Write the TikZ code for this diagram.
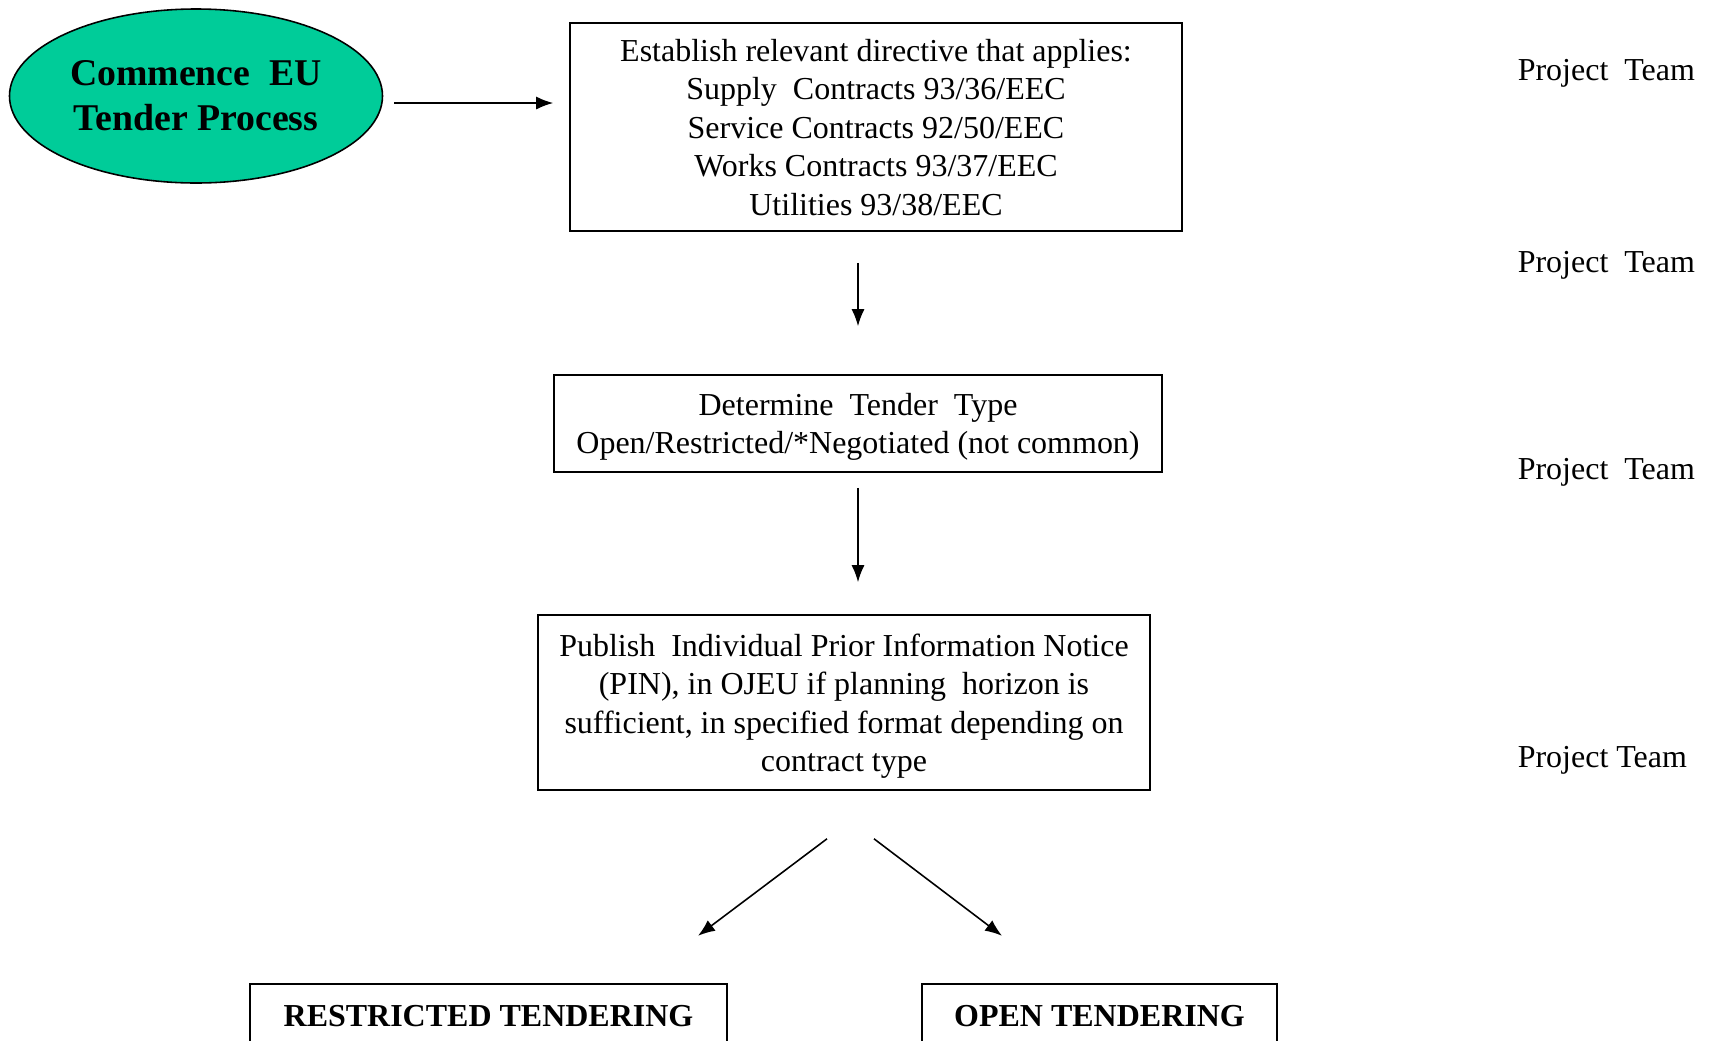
\documentclass[tikz,border=0pt]{standalone}
\usepackage{fontspec}
\setmainfont{Liberation Serif}
\usepackage{tikz}
\usetikzlibrary{arrows.meta}
\usetikzlibrary{shapes}
\usetikzlibrary{calc}
\definecolor{startgreen}{RGB}{0,204,153}
\tikzset{
    >={Latex[length=0.34cm,width=0.26cm]},
    flow/.style={draw=black, ->},
    stepbox/.style={draw=black, align=center, inner sep=0pt, text depth=0pt,
        font=\fontsize{18.2}{21.9}\selectfont},
    startbox/.style={ellipse, draw=black, fill=startgreen, align=center,
        inner sep=0pt, minimum width=7.46cm, minimum height=3.48cm,
        font=\bfseries\fontsize{21.5}{25.6}\selectfont},
    endbox/.style={draw=black, anchor=north, inner ysep=0.4cm,
        text height=0.45cm, text depth=1.5cm,
        font=\bfseries\fontsize{18.2}{21.9}\selectfont},
    who/.style={anchor=west, inner sep=0pt,
        font=\fontsize{18.2}{21.9}\selectfont},
}

\begin{document}
\begin{tikzpicture}[line width=0.9pt]
\useasboundingbox (0cm,0cm) rectangle (34.22cm,-20.8cm);
\clip (0cm,0cm) rectangle (34.22cm,-20.8cm);
% \draw[step=1cm, very thin, gray] (0cm,0cm) grid (34cm,-20cm);
\node[startbox] (start) at (3.92cm,-1.92cm) {Commence~ EU\\Tender Process};
\node[stepbox, minimum width=12.24cm, minimum height=4.16cm] (directive) at (17.52cm,-2.54cm)
    {Establish relevant directive that applies:\\Supply~ Contracts 93/36/EEC\\Service Contracts 92/50/EEC\\Works Contracts 93/37/EEC\\Utilities 93/38/EEC};
\node[stepbox, minimum width=12.16cm, minimum height=1.94cm] (type) at (17.16cm,-8.47cm)
    {Determine~ Tender~ Type\\Open/Restricted/*Negotiated (not common)};
\node[stepbox, minimum width=12.24cm, minimum height=3.5cm] (pin) at (16.88cm,-14.05cm)
    {Publish~ Individual Prior Information Notice\\(PIN), in OJEU if planning~ horizon is\\sufficient, in specified format depending on\\contract type};
\node[endbox, minimum width=9.54cm] (restricted) at (9.77cm,-19.66cm) {RESTRICTED TENDERING};
\node[endbox, minimum width=7.1cm] (open) at (21.99cm,-19.66cm) {OPEN TENDERING};

\node[who] (team1) at (30.34cm,-1.47cm) {Project~ Team};
\node[who] (team2) at (30.34cm,-5.31cm) {Project~ Team};
\node[who] (team3) at (30.34cm,-9.45cm) {Project~ Team};
\node[who] (team4) at (30.34cm,-15.21cm) {Project Team};

\draw[flow, shorten <=0.22cm, shorten >=0.32cm] ([yshift=-0.14cm]start.east) -- ([yshift=-0.14cm]start.east -| directive.west);
\draw[flow, shorten <=0.62cm, shorten >=0.96cm] (directive.south -| type.north) -- (type.north);
\draw[flow, shorten <=0.3cm, shorten >=0.64cm] (type.south) -- (type.south |- pin.north);

\coordinate (splitl) at ($(pin.south)+(-0.34cm,-0.96cm)$);
\coordinate (endl) at ($(pin.south)+(-2.92cm,-2.9cm)$);
\coordinate (splitr) at ($(pin.south)+(0.6cm,-0.96cm)$);
\coordinate (endr) at ($(pin.south)+(3.16cm,-2.9cm)$);
\draw[flow] (splitl) -- (endl);
\draw[flow] (splitr) -- (endr);
\end{tikzpicture}
\end{document}
